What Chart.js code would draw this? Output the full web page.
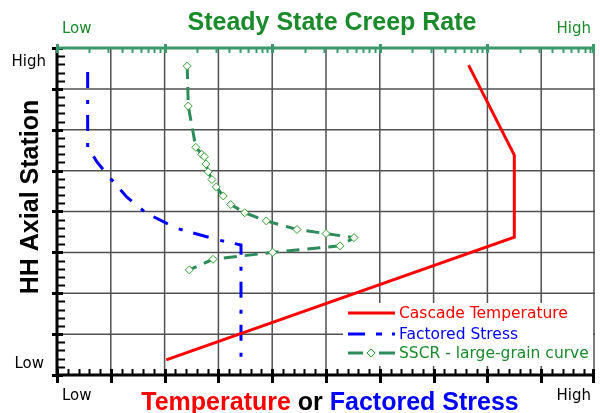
<!DOCTYPE html>
<html>
<head>
<meta charset="utf-8">
<script src="https://cdn.jsdelivr.net/npm/chart.js@4"></script>
<style>
  html, body { margin: 0; padding: 0; background: #fff; }
  #wrap { width: 600px; height: 413px; }
</style>
</head>
<body>
<div id="wrap"><canvas id="creepChart" width="600" height="413"></canvas></div>
<script>
// data (x: 0..10 temperature/stress, y: 0..8 axial station)
const tempX = [2.03, 8.50, 8.50, 7.65];
const tempY = [0.37, 3.37, 5.38, 7.58];

const stressX = [0.57, 0.57, 0.75, 1.0, 1.3, 1.66, 2.22, 3.01, 3.42, 3.42];
const stressY = [7.41, 5.57, 5.2, 4.8, 4.35, 3.96, 3.59, 3.30, 3.18, 0.37];

const sscrX = [2.42, 2.44, 2.58, 2.69, 2.74, 2.77, 2.81, 2.88, 2.96, 3.09, 3.23, 3.49, 3.89, 4.46, 5.0, 5.52, 5.26, 4.01, 2.90, 2.46];
const sscrY = [7.56, 6.58, 5.57, 5.40, 5.34, 5.16, 4.97, 4.78, 4.60, 4.38, 4.17, 3.97, 3.77, 3.56, 3.46, 3.36, 3.16, 3.00, 2.83, 2.57];

const seriesNames = ['Cascade Temperature', 'Factored Stress', 'SSCR - large-grain curve'];
const xTickLabels = ['Low', 'High'];
const yTickLabels = ['Low', 'High'];
const topTickLabels = ['Low', 'High'];

const RED = '#ff0000';
const BLUE = '#0000ff';
const GREEN_LINE = '#2e8b5a';
const GREEN_MARK = '#33a033';
const GREEN_AXIS = '#3a9a6a';
const GREEN_TEXT = '#1a8a2a';

function toPoints(xs, ys) {
    return xs.map((x, i) => ({ x: x, y: ys[i] }));
}

const gridPlugin = {
    id: 'gridLines',
    beforeDatasetsDraw(chart) {
        const ctx = chart.ctx;
        const xs = chart.scales.x;
        const ys = chart.scales.y;
        const area = chart.chartArea;
        ctx.save();
        ctx.strokeStyle = '#505050';
        ctx.lineWidth = 1.5;
        for (let v = 1; v <= 10; v++) {
            const px = Math.min(xs.getPixelForValue(v), area.right - 1);
            ctx.beginPath(); ctx.moveTo(px, area.top); ctx.lineTo(px, area.bottom); ctx.stroke();
        }
        for (let v = 1; v <= 7; v++) {
            const py = ys.getPixelForValue(v);
            ctx.beginPath(); ctx.moveTo(area.left, py); ctx.lineTo(area.right, py); ctx.stroke();
        }
        ctx.restore();
    }
};

const decorPlugin = {
    id: 'decor',
    afterDraw(chart) {
        const ctx = chart.ctx;
        const xs = chart.scales.x;
        const ys = chart.scales.y;
        const ts = chart.scales.x2;
        const area = chart.chartArea;

        ctx.save();

        // legend box
        const lx = 343, ly = 303;
        ctx.fillStyle = '#fff';
        ctx.fillRect(lx, ly, area.right - lx - 2, 63);
        const rows = [313, 334, 353];
        ctx.lineWidth = 3;
        ctx.lineCap = 'butt';
        ctx.strokeStyle = RED;
        ctx.setLineDash([]);
        ctx.beginPath(); ctx.moveTo(348, rows[0]); ctx.lineTo(395, rows[0]); ctx.stroke();
        ctx.strokeStyle = BLUE;
        ctx.setLineDash([17, 11, 6, 10, 3, 20]);
        ctx.beginPath(); ctx.moveTo(348, rows[1]); ctx.lineTo(395, rows[1]); ctx.stroke();
        ctx.setLineDash([]);
        ctx.strokeStyle = GREEN_LINE;
        ctx.beginPath(); ctx.moveTo(348, rows[2]); ctx.lineTo(363, rows[2]); ctx.stroke();
        ctx.beginPath(); ctx.moveTo(379, rows[2]); ctx.lineTo(395, rows[2]); ctx.stroke();
        ctx.lineWidth = 1;
        ctx.strokeStyle = GREEN_MARK;
        ctx.fillStyle = '#fff';
        ctx.beginPath();
        ctx.moveTo(371, rows[2] - 4); ctx.lineTo(375, rows[2]); ctx.lineTo(371, rows[2] + 4); ctx.lineTo(367, rows[2]);
        ctx.closePath(); ctx.fill(); ctx.stroke();

        ctx.font = '15.5px "DejaVu Sans"';
        ctx.textBaseline = 'middle';
        ctx.textAlign = 'left';
        const legendColors = [RED, BLUE, GREEN_TEXT];
        seriesNames.forEach((name, i) => {
            ctx.fillStyle = legendColors[i];
            ctx.fillText(name, 399, rows[i] + 1);
        });

        // left axis
        ctx.strokeStyle = '#000';
        ctx.lineWidth = 3;
        ctx.beginPath(); ctx.moveTo(area.left, area.top); ctx.lineTo(area.left, area.bottom + 1); ctx.stroke();
        for (let v = 0; v <= 8.001; v += 0.2) {
            const py = Math.round(ys.getPixelForValue(v)) + 0.5;
            const major = Math.abs(v - Math.round(v)) < 0.01;
            ctx.lineWidth = major ? 3 : 2;
            ctx.beginPath();
            ctx.moveTo(area.left - (major ? 5 : 0), py);
            ctx.lineTo(area.left + (major ? 6 : 8), py);
            ctx.stroke();
        }

        // bottom axis
        ctx.lineWidth = 3;
        ctx.beginPath(); ctx.moveTo(area.left - 1, area.bottom); ctx.lineTo(area.right, area.bottom); ctx.stroke();
        for (let v = 0; v <= 10.001; v += 0.2) {
            const px = Math.min(Math.round(xs.getPixelForValue(v)) + 0.5, area.right - 1.5);
            const major = Math.abs(v - Math.round(v)) < 0.01;
            ctx.lineWidth = major ? 3 : 2;
            ctx.beginPath();
            ctx.moveTo(px, area.bottom - 6);
            ctx.lineTo(px, area.bottom + (major ? 8 : 0));
            ctx.stroke();
        }

        // top log axis (green)
        ctx.strokeStyle = GREEN_AXIS;
        ctx.lineWidth = 3;
        ctx.beginPath(); ctx.moveTo(area.left, area.top); ctx.lineTo(area.right, area.top); ctx.stroke();
        for (let d = 1; d <= 1e5; d *= 10) {
            for (let m = 1; m <= 9; m++) {
                const v = d * m;
                if (v > 1e5) break;
                const px = Math.min(Math.round(ts.getPixelForValue(v)) + 0.5, area.right - 1.5);
                ctx.lineWidth = m === 1 ? 3 : 2;
                ctx.beginPath();
                ctx.moveTo(px, area.top - (m === 1 ? 4 : 0));
                ctx.lineTo(px, area.top + 5);
                ctx.stroke();
            }
        }

        // end labels
        ctx.font = '15px "DejaVu Sans"';
        ctx.textBaseline = 'alphabetic';
        ctx.fillStyle = '#000';
        ctx.textAlign = 'left';
        ctx.fillText(xTickLabels[0], xs.getPixelForValue(0) + 5, 400);
        ctx.textAlign = 'right';
        ctx.fillText(xTickLabels[1], xs.getPixelForValue(10) - 4, 400);
        ctx.fillText(yTickLabels[1], area.left - 11, ys.getPixelForValue(8) + 18);
        ctx.fillText(yTickLabels[0], area.left - 13, ys.getPixelForValue(0) - 7);
        ctx.fillStyle = GREEN_TEXT;
        ctx.textAlign = 'left';
        ctx.fillText(topTickLabels[0], ts.getPixelForValue(1) + 5, 33);
        ctx.textAlign = 'right';
        ctx.fillText(topTickLabels[1], ts.getPixelForValue(1e5) - 4, 33);

        // titles
        ctx.font = 'bold 25px "Liberation Sans"';
        ctx.textAlign = 'center';
        ctx.fillStyle = GREEN_TEXT;
        ctx.fillText('Steady State Creep Rate', 332, 30);

        const parts = [['Temperature', RED], [' or ', '#000'], ['Factored Stress', BLUE]];
        const total = parts.reduce((s, p) => s + ctx.measureText(p[0]).width, 0);
        let cx = 330 - total / 2;
        ctx.textAlign = 'left';
        parts.forEach(p => {
            ctx.fillStyle = p[1];
            ctx.fillText(p[0], cx, 410);
            cx += ctx.measureText(p[0]).width;
        });

        ctx.save();
        ctx.translate(38, 197);
        ctx.rotate(-Math.PI / 2);
        ctx.textAlign = 'center';
        ctx.fillStyle = '#000';
        ctx.fillText('HH Axial Station', 0, 0);
        ctx.restore();

        ctx.restore();
    }
};

const ctx = document.getElementById('creepChart').getContext('2d');
new Chart(ctx, {
    type: 'scatter',
    data: {
        datasets: [
            {
                label: seriesNames[0],
                data: toPoints(tempX, tempY),
                showLine: true,
                borderColor: RED,
                borderWidth: 3,
                pointRadius: 0,
                fill: false
            },
            {
                label: seriesNames[1],
                data: toPoints(stressX, stressY),
                showLine: true,
                borderColor: BLUE,
                borderWidth: 3,
                borderDash: [16, 12, 4, 11],
                pointRadius: 0,
                fill: false
            },
            {
                label: seriesNames[2],
                data: toPoints(sscrX, sscrY),
                showLine: true,
                borderColor: GREEN_LINE,
                borderWidth: 3,
                borderDash: [13, 8],
                pointStyle: 'rectRot',
                pointRadius: 4,
                pointBorderWidth: 1,
                pointBorderColor: GREEN_MARK,
                pointBackgroundColor: '#fff',
                fill: false
            }
        ]
    },
    options: {
        responsive: false,
        animation: false,
        layout: { padding: { left: 57, right: 0, top: 48, bottom: 38 } },
        plugins: {
            legend: { display: false },
            tooltip: { enabled: false },
            title: { display: false }
        },
        scales: {
            x: { type: 'linear', display: false, min: 0, max: 10 },
            y: { type: 'linear', display: false, min: 0, max: 8 },
            x2: { type: 'logarithmic', display: false, position: 'top', min: 1, max: 100000 }
        }
    },
    plugins: [gridPlugin, decorPlugin]
});
</script>
</body>
</html>
